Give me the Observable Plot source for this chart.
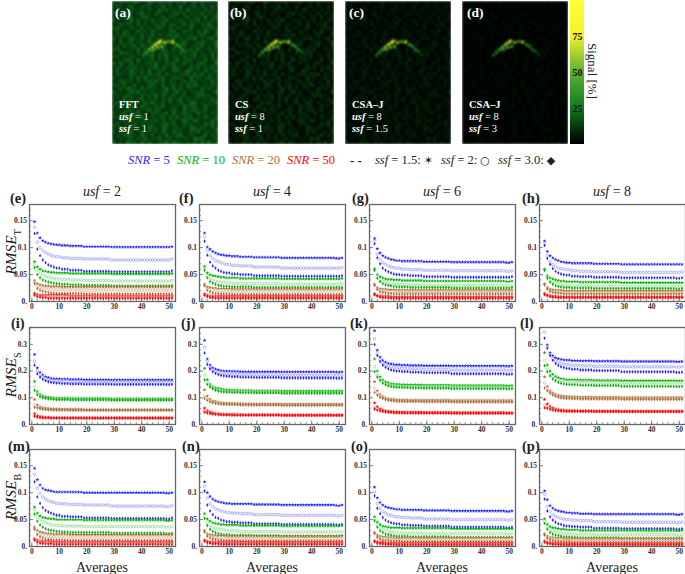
<!DOCTYPE html>
<html>
<head>
<meta charset="utf-8">
<script src="https://cdn.jsdelivr.net/npm/d3@7"></script>
<script src="https://cdn.jsdelivr.net/npm/@observablehq/plot@0.6"></script>
<style>
  body { margin: 0; background: white; }
  #page { position: relative; width: 685px; height: 574px; overflow: hidden; font-family: "Liberation Serif", serif; color: #222; }
  #page svg { position: absolute; overflow: visible; }
  .t { position: absolute; white-space: nowrap; line-height: 1; }
  .b { font-weight: bold; }
  i { font-style: italic; }
</style>
</head>
<body>
<div id="page"></div>
<script>
// values in thousandths. each series has 15 values:
// averages 1-8 one by one, then the stretches in holds (each value covers its whole stretch)
const holds = [1,1,1,1,1,1,1,1,2,3,5,10,20,2,1]
const snrLevels = [5,10,20,50]
const snrColors = ["#2525ff","#00b000","#a8703c","#ff0000"]
const lightColors = ["#9a9aff","#8cdc8c","#d8b490","#ff9090"]

// ssf order in each list: 1.5 star, 2 circle, 3 diamond
const e5 = [[148,127,118,113,110,108,107,106,105,104,103,102,101,101,102],[138,110,100,95,91,88,86,84,83,81,80,79,77,77,79],[126,97,85,77,72,68,66,64,62,60,58,56,55,55,57]]
const e10 = [[74,64,60,57,56,55,54,54,53,53,52,52,51,51,52],[69,58,52,49,47,45,44,43,42,41,40,39,38,38,39],[63,50,44,40,38,36,35,34,33,32,31,30,29,29,30]]
const e20 = [[39,33,31,30,29,29,28,28,28,27,27,27,27,27,27],[36,29,26,25,24,23,23,22,22,22,21,21,21,21,21],[33,24,21,19,18,17,16,16,15,15,15,14,14,14,14]]
const e50 = [[15,13,12,12,12,12,12,12,12,12,11,11,11,11,11],[14,11,10,10,9,9,9,9,9,9,9,9,9,9,9],[12,9,8,7,7,6,6,6,6,6,6,6,6,6,6]]

const f5 = [[127,101,97,93,90,88,87,86,85,84,83,82,81,80,81],[120,95,85,80,76,74,72,70,69,67,66,64,62,62,63],[112,86,73,66,62,58,56,54,53,51,50,48,47,47,48]]
const f10 = [[65,53,50,48,47,46,45,45,44,44,43,43,42,42,43],[62,48,43,40,38,37,36,35,35,34,33,33,32,32,33],[58,44,37,34,32,30,29,28,28,27,27,26,26,26,26]]
const f20 = [[32,27,26,25,25,24,24,24,24,23,23,23,23,23,23],[31,25,22,21,21,20,20,20,19,19,19,19,19,19,19],[29,21,18,16,15,15,14,14,14,13,13,13,13,13,13]]
const f50 = [[14,12,11,10,10,10,10,10,10,10,10,10,10,10,10],[13,11,9,9,8,8,8,8,8,8,8,8,8,8,8],[12,9,7,7,6,6,6,6,6,6,6,6,6,6,6]]

const g5 = [[117,98,90,85,82,80,78,77,76,75,75,74,73,72,73],[112,88,78,72,69,66,64,63,62,60,59,58,57,56,57],[107,81,70,62,58,55,53,51,50,49,48,46,45,45,46]]
const g10 = [[61,50,46,44,42,41,41,40,40,39,39,38,38,37,38],[60,47,41,38,36,34,33,33,32,31,31,30,30,29,30],[58,43,37,33,31,30,29,28,27,27,26,26,25,25,26]]
const g20 = [[32,26,24,23,23,22,22,22,21,21,21,21,21,21,21],[31,24,21,20,19,19,18,18,18,18,18,18,18,18,18],[30,22,18,17,16,15,15,14,14,14,14,14,14,14,14]]
const g50 = [[14,11,11,10,10,10,9,9,9,9,9,9,9,9,9],[13,11,9,9,8,8,8,8,8,8,8,8,8,8,8],[13,10,8,7,7,7,6,6,6,6,6,6,6,6,6]]

const h5 = [[112,93,85,81,78,76,74,73,72,71,71,70,69,69,69],[108,85,74,68,65,62,61,60,59,57,56,55,54,54,55],[104,80,69,61,56,53,51,50,49,47,46,45,44,43,44]]
const h10 = [[60,48,44,42,40,39,38,38,37,37,36,36,35,35,35],[59,47,40,36,34,33,32,31,30,29,29,28,28,28,28],[58,43,36,32,29,28,27,26,26,25,25,24,24,23,24]]
const h20 = [[33,26,23,22,21,21,21,20,20,20,20,20,20,20,20],[32,24,20,19,18,18,17,17,17,17,17,17,17,17,17],[31,23,19,17,16,15,15,14,14,14,14,14,14,14,14]]
const h50 = [[15,12,11,10,10,9,9,9,9,9,9,9,9,9,9],[14,11,10,9,8,8,8,8,8,8,8,8,8,8,8],[13,11,9,8,8,7,7,7,7,7,7,7,7,7,7]]

const i5 = [[262,212,195,185,179,176,173,172,171,170,169,168,167,167,167],[237,200,186,178,172,168,165,163,162,161,160,159,158,157,158],[222,190,177,169,164,160,158,156,155,153,152,151,150,149,150]]
const i10 = [[161,124,113,107,104,102,101,100,99,99,98,98,97,97,97],[141,118,109,104,101,99,98,97,96,96,95,95,94,94,95],[128,111,104,100,98,96,95,94,93,93,92,92,91,91,91]]
const i20 = [[94,73,66,63,61,60,59,58,58,57,57,56,56,56,56],[73,66,62,60,58,57,57,56,56,55,55,55,55,55,55],[64,62,59,57,56,55,55,54,54,54,53,53,53,53,53]]
const i50 = [[41,33,30,28,27,27,26,26,26,25,25,25,25,25,25],[34,30,28,27,26,26,25,25,25,25,25,24,24,24,24],[31,28,26,25,25,25,24,24,24,24,24,24,24,24,24]]

const j5 = [[315,245,222,212,207,204,202,200,200,199,198,198,197,196,197],[289,236,215,205,199,195,193,191,190,188,187,186,184,184,185],[268,225,208,197,191,187,184,182,181,179,177,176,174,173,174]]
const j10 = [[210,168,150,142,137,135,133,131,130,129,128,127,126,126,126],[185,158,145,138,133,130,128,127,126,125,124,123,122,121,122],[167,150,140,133,128,125,123,122,121,120,119,118,117,117,117]]
const j20 = [[130,106,95,89,86,84,82,81,80,79,78,77,76,76,76],[107,95,88,85,82,80,79,78,77,77,76,75,74,74,74],[98,90,84,81,79,77,76,75,75,74,73,73,72,72,72]]
const j50 = [[61,52,47,44,42,41,40,39,38,38,37,37,36,36,36],[51,47,43,41,40,39,38,37,37,36,36,36,35,35,35],[46,43,41,39,38,37,36,36,36,35,35,35,34,34,34]]

const k5 = [[351,278,252,240,233,229,227,225,224,222,221,220,219,218,219],[321,265,243,231,224,219,216,214,212,210,208,206,204,203,204],[299,258,236,222,214,208,204,202,200,198,196,194,190,188,189]]
const k10 = [[245,200,178,167,160,156,153,151,150,149,148,147,146,145,146],[217,185,170,160,154,150,147,145,144,143,142,141,140,139,140],[198,177,165,155,149,145,142,140,139,138,137,136,134,133,134]]
const k20 = [[160,127,113,105,100,97,95,94,93,92,91,91,90,90,90],[136,117,107,101,97,94,92,91,90,90,89,88,87,87,87],[120,110,102,97,93,91,89,88,87,86,86,85,84,84,84]]
const k50 = [[81,67,59,55,52,50,49,48,47,46,46,45,45,44,44],[65,58,54,51,49,48,47,46,45,45,44,44,43,43,43],[58,54,51,49,47,46,45,44,44,43,43,43,42,42,42]]

const l5 = [[375,298,268,258,250,246,244,242,241,239,238,237,236,235,236],[346,292,262,247,238,232,229,226,224,222,220,218,216,215,216],[323,285,258,240,228,221,216,213,210,207,204,202,197,195,196]]
const l10 = [[269,222,200,188,180,175,172,170,168,167,166,165,164,163,164],[241,206,190,179,172,168,165,163,161,160,159,158,156,156,157],[220,197,182,170,163,158,154,152,150,149,147,146,143,142,143]]
const l20 = [[178,143,127,118,113,110,108,106,105,104,103,102,101,101,101],[156,133,122,114,109,106,104,103,102,101,100,99,98,98,98],[137,126,117,110,105,102,100,98,97,96,95,95,94,94,94]]
const l50 = [[94,77,68,62,58,56,55,54,53,52,52,51,50,50,50],[72,66,61,57,55,54,53,52,51,51,50,50,49,49,49],[62,61,57,54,52,51,50,50,49,49,49,48,48,48,48]]

const m5 = [[145,124,114,108,105,104,103,102,101,101,101,100,100,99,100],[134,108,98,92,88,85,83,82,80,79,78,77,75,74,76],[120,92,80,72,67,64,62,60,58,56,55,53,52,51,53]]
const m10 = [[73,62,57,54,53,52,51,51,50,50,50,49,49,48,49],[68,55,50,46,44,42,41,40,39,38,38,37,37,36,37],[60,47,40,36,33,31,30,29,28,27,26,26,25,24,25]]
const m20 = [[36,30,27,26,25,24,24,23,23,23,22,22,22,22,22],[34,26,23,21,20,19,19,18,18,18,17,17,17,17,17],[32,22,18,16,14,13,13,12,12,12,11,11,11,11,11]]
const m50 = [[14,12,11,10,10,10,9,9,9,9,9,9,9,9,9],[13,10,9,8,8,7,7,7,7,7,7,7,7,7,7],[12,8,6,6,5,5,5,4,4,4,4,4,4,4,4]]

const n5 = [[120,100,93,88,85,83,82,81,80,79,79,78,77,76,77],[112,90,79,74,70,68,66,65,63,62,61,59,58,57,58],[103,77,66,59,54,52,49,48,46,45,44,42,41,40,41]]
const n10 = [[61,51,47,44,43,42,41,41,40,40,39,39,38,38,39],[58,45,39,36,34,32,31,31,30,29,28,28,27,27,28],[52,39,32,28,26,24,23,22,22,21,21,20,19,19,20]]
const n20 = [[30,24,22,21,21,20,20,20,19,19,19,19,19,19,19],[28,22,19,18,17,16,16,16,15,15,15,15,15,15,15],[27,19,16,14,13,12,12,11,11,11,10,10,10,10,10]]
const n50 = [[12,10,9,9,8,8,8,8,8,8,8,8,8,8,8],[11,9,8,7,7,6,6,6,6,6,6,6,6,6,6],[10,7,6,5,5,5,4,4,4,4,4,4,4,4,4]]

const o5 = [[110,90,82,77,74,72,71,70,69,68,68,67,66,65,66],[101,80,71,65,62,59,58,56,55,54,53,51,50,49,50],[94,71,61,54,49,46,44,43,42,40,39,38,36,35,36]]
const o10 = [[55,45,41,38,37,36,35,35,35,34,34,34,33,33,33],[52,41,35,32,30,28,27,27,26,25,25,24,24,23,24],[48,36,29,26,23,22,21,20,19,19,18,18,17,17,17]]
const o20 = [[26,21,19,18,18,17,17,17,16,16,16,16,16,16,16],[25,19,17,15,15,14,14,14,13,13,13,13,13,13,13],[24,17,14,12,11,11,10,10,10,9,9,9,9,9,9]]
const o50 = [[11,9,8,8,7,7,7,7,7,7,7,7,7,7,7],[10,8,7,6,6,6,5,5,5,5,5,5,5,5,5],[9,6,5,5,4,4,4,4,3,3,3,3,3,3,3]]

const p5 = [[103,87,76,71,68,66,65,64,63,62,61,60,60,59,60],[97,74,65,59,56,54,52,51,50,49,48,46,45,44,45],[88,66,55,49,45,42,41,39,38,37,36,34,33,32,33]]
const p10 = [[51,41,37,35,34,33,32,32,31,31,30,30,30,29,30],[47,37,32,29,27,26,25,24,24,23,23,22,22,21,22],[43,32,26,23,21,20,19,18,18,17,16,16,15,15,15]]
const p20 = [[24,19,17,17,16,16,16,15,15,15,15,15,15,15,15],[23,17,15,14,13,13,13,12,12,12,12,12,12,12,12],[21,15,12,11,10,10,9,9,9,8,8,8,8,8,8]]
const p50 = [[10,8,7,7,7,6,6,6,6,6,6,6,6,6,6],[9,7,6,6,5,5,5,5,5,5,5,5,5,5,5],[8,6,5,4,4,4,3,3,3,3,3,3,3,3,3]]

const colLefts = [29,199,369,539]
const usfValues = [2,4,6,8]
const rowTops = [204,327,449]
const rowNames = ["T","S","B"]
const rowMax = [0.18,0.363,0.18]
const rowTicks = [[0,0.05,0.1,0.15],[0,0.1,0.2,0.3],[0,0.05,0.1,0.15]]
const rowMinor = [0.01,0.02,0.01]
const panelSeries = [
  [[e5,e10,e20,e50],[f5,f10,f20,f50],[g5,g10,g20,g50],[h5,h10,h20,h50]],
  [[i5,i10,i20,i50],[j5,j10,j20,j50],[k5,k10,k20,k50],[l5,l10,l20,l50]],
  [[m5,m10,m20,m50],[n5,n10,n20,n50],[o5,o10,o20,o50],[p5,p10,p20,p50]]
]
const panelLetters = ["efgh","ijkl","mnop"]
const letterLeft = [[10,179,352,522],[11,181,350,520],[8,182,351,522]]
const letterTop = [191,316,439]

// image panels: estimated speckle (0-9), crescent spots and per-panel brightness
const imageLefts = [112,228,345,462]
const imageBase = [9,1,0.5,0]
const imageGain = [1.7,1.5,0.9,0.4]
const imageSpotGain = [1,0.95,0.95,0.85]
const imageLabels = ["(a)","(b)","(c)","(d)"]
const imageMethod = ["FFT","CS","CSA–J","CSA–J"]
const imageUsf = [1,8,8,8]
const imageSsf = ["1","1","1.5","3"]
const speckle = [
"304120520163041250316024051302","152036104250317041260135042061",
"041305213041062513040721305140","260142037120531024615032160423",
"103526014630215043102504316025","420137250316042701352041603152",
"015243061302517034026153042710","362014205140362051430261014352",
"140530162407213046015320517204","023641305126041352703140263015",
"514027316052403126140537021460","206135042173062514036201453027",
"031524607213045102635014270316","452013261540317206140352601423",
"106342051637024513071246030152",
"340215302146052713405126034061","021463170325041602713540216035",
"517206041352701436025130462017","134052613024705316420163504271",
"260417325061243015602741305126","053126404172350612034516270431",
"412035162703146025430172503614","106523041362715043026154032170",
"341602513047216035140627304152","025174306251304716250341062513",
"513026471305124603715024361027","140362015243706125034102654310",
"302715046132504271360514203162","061453120637215040362175041326",
"425016307421536014207345016230","130264051372640135207146325014",
"502713462015324607135420613042","241036517204135062714350216305",
"013625041732605124036517402163","350142706135024726105340216471",
"126403251074316502413076152034","405217036142507316240153702416",
"031564207315042613570241036152","214036152704361250314207561034",
"502173406251034716420315062714"
]
const spotX = [31,34,37,40,43,46,48,41,45,49,52,56,60,64,67,70,73,76]
const spotY = [54,51,48,45.5,43,41,39.5,48,46,45,41,40,40.5,43,45,48,50,53]
const spotV = [24,34,50,62,72,76,74,45,52,48,62,45,74,38,34,28,22,14]

// colour bar levels
const barLevels = d3.range(0,100,2)
const barTicks = [25,50,75]
const signalDomain = [0,25,50,75,100]
const signalRange = ["#000000","#0f7f20","#62b030","#f2f22a","#ffff33"]

const page = document.getElementById("page")
function addText(html, left, top, size, cls, extra) {
  const el = document.createElement("div")
  el.className = "t " + (cls || "")
  el.innerHTML = html
  el.style.left = left + "px"
  el.style.top = top + "px"
  el.style.fontSize = size + "px"
  if (extra) Object.assign(el.style, extra)
  page.append(el)
  return el
}
function place(svg, left, top) {
  svg.style.left = left + "px"
  svg.style.top = top + "px"
  page.append(svg)
}

// images (a)-(d)
imageLefts.forEach((left, k) => {
  const cells = []
  speckle.forEach((row, r) => {
    for (let c = 0; c < row.length; c++) cells.push({c, r, v: imageBase[k] + (+row[c]) * imageGain[k]})
  })
  const spots = spotX.map((x, i) => ({x, y: spotY[i], v: spotV[i] * imageSpotGain[k]}))
  const w = 106 / speckle[0].length, h = 143 / speckle.length
  const svg = Plot.plot({
    width: 106, height: 143, margin: 0,
    x: {domain: [0,106], axis: null},
    y: {domain: [0,143], reverse: true, axis: null},
    color: {type: "linear", domain: signalDomain, range: signalRange},
    marks: [
      Plot.rect(cells, {x1: d => d.c * w, x2: d => (d.c + 1) * w + 0.3, y1: d => d.r * h, y2: d => (d.r + 1) * h + 0.3, fill: "v"}),
      Plot.dot(spots, {x: "x", y: "y", fill: "v", r: 1.7})
    ],
    style: {background: "black"}
  })
  svg.style.filter = "blur(0.8px)"
  svg.style.clipPath = "inset(0)"
  place(svg, left, 1)
  const white = {color: "white"}
  addText(imageLabels[k], left + [3,2,4,5][k], 6, 13.5, "b", white)
  addText(imageMethod[k], left + 7, 100, 10.5, "b", white)
  addText(`<i class="b">usf</i> = ${imageUsf[k]}`, left + 7, 112, 10.5, "", white)
  addText(`<i class="b">ssf</i> = ${imageSsf[k]}`, left + 7, 124, 10.5, "", white)
})

// colour bar
place(Plot.plot({
  width: 14, height: 143, margin: 0,
  x: {domain: [0,1], axis: null},
  y: {domain: [0,100], axis: null},
  color: {type: "linear", domain: signalDomain, range: signalRange},
  marks: [
    Plot.rect(barLevels, {x1: 0, x2: 1, y1: d => d, y2: d => d + 2.6, fill: d => d}),
    Plot.text(barTicks, {x: 0.5, y: d => d, text: d => d, fill: "#111", fontSize: 10, fontWeight: "bold"})
  ],
  style: {fontFamily: "Liberation Serif"}
}), 570, 1)
addText("Signal [%]", 592, 71, 13, "", {transform: "translate(-50%,-50%) rotate(90deg)"})

// legend row
const legendLefts = [128,177,232,287]
snrLevels.forEach((s, i) => addText(`<i>SNR</i> = ${s}`, legendLefts[i], 154, 12.5, "", {color: snrColors[i]}))
addText("- -", 350, 154, 13, "b")
const symStyle = 'style="font-family:DejaVu Sans;font-size:11px"'
addText(`<i>ssf</i> = 1.5: <span ${symStyle}>✶</span>`, 375, 154, 12.5)
addText(`<i>ssf</i> = 2: <span ${symStyle}>○</span>`, 441, 154, 12.5)
addText(`<i>ssf</i> = 3.0: <span ${symStyle}>◆</span>`, 498, 154, 12.5)

// grid of RMSE panels
const xMajor = [0,10,20,30,40,50]
const xMinor = d3.range(0,52,2)
rowTops.forEach((top, r) => {
  const yMinor = d3.range(0, rowMax[r], rowMinor[r])
  colLefts.forEach((left, c) => {
    const marks = [
      Plot.axisX(xMinor, {tickSize: -2, tickFormat: () => "", stroke: "#999", label: null}),
      Plot.axisX(xMajor, {tickSize: -3.5, tickPadding: 6, fontSize: 7.5, fontWeight: 600, stroke: "#888", label: null}),
      Plot.axisY(yMinor, {tickSize: -2, tickFormat: () => "", stroke: "#999", label: null}),
      Plot.axisY(rowTicks[r], {tickSize: -4, tickPadding: 6.5, fontSize: 7.5, fontWeight: 600, stroke: "#888", label: null,
        tickFormat: d => d === 0 ? "0." : String(d)})
    ]
    panelSeries[r][c].forEach((snrSeries, s) => {
      snrSeries.forEach((series, m) => {
        const pts = []
        let avg = 1
        series.forEach((v, i) => {
          for (let n = 0; n < holds[i]; n++) pts.push({avg: avg++, value: v / 1000})
        })
        const opts = {x: "avg", y: "value", clip: true}
        if (m == 0) marks.push(Plot.dot(pts, {...opts, symbol: "star", r: 1.25, fill: snrColors[s]}))
        if (m == 1) marks.push(Plot.dot(pts, {...opts, symbol: "circle", r: 1.3, fill: "none", stroke: lightColors[s], strokeWidth: 0.7}))
        if (m == 2) marks.push(Plot.dot(pts, {...opts, symbol: "diamond", r: 1.15, fill: snrColors[s]}))
      })
    })
    marks.push(Plot.frame({stroke: "#666", strokeWidth: 1.3}))
    const svg = Plot.plot({
      width: 175, height: 109,
      marginLeft: 28, marginRight: 1, marginTop: 1, marginBottom: 11,
      x: {domain: [-0.84,52.3], label: null},
      y: {domain: [0,rowMax[r]], label: null},
      style: {fontFamily: "Liberation Serif", background: "transparent", color: "#333"},
      marks
    })
    place(svg, left - 28, top - 1)
    addText(`(${panelLetters[r][c]})`, letterLeft[r][c], letterTop[r], 14.5, "b")
  })
  addText(`<i>RMSE</i><sub style="font-size:10px">${rowNames[r]}</sub>`, 13, top + 48, 15.5, "", {transform: "translate(-50%,-50%) rotate(-90deg)"})
})

colLefts.forEach((left, c) => {
  addText(`<i>usf</i> = ${usfValues[c]}`, left + 73, 185, 14, "", {transform: "translateX(-50%)"})
  addText("Averages", left + 73, 561, 14, "", {transform: "translateX(-50%)"})
})
</script>
</body>
</html>
